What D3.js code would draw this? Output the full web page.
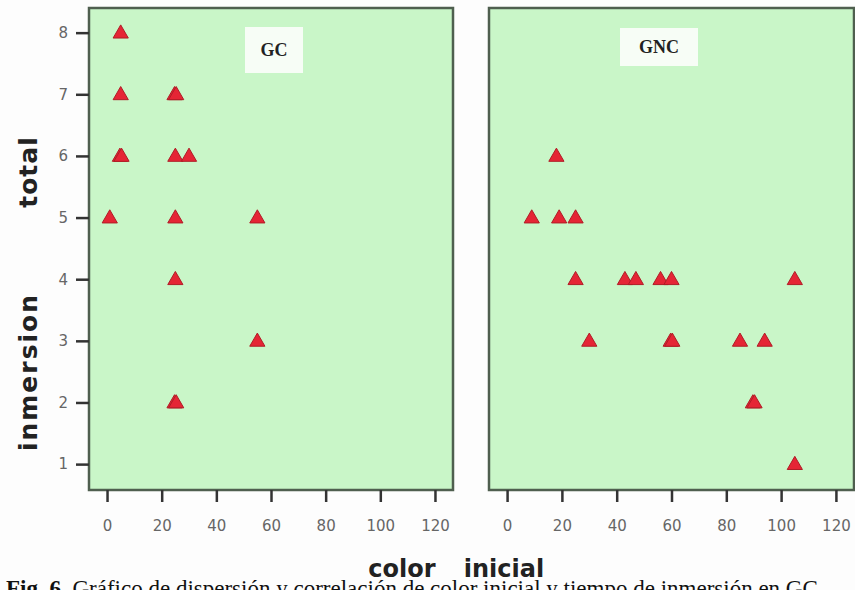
<!DOCTYPE html>
<html>
<head>
<meta charset="utf-8">
<script src="https://cdn.jsdelivr.net/npm/d3@7"></script>
<style>
  body { margin: 0; background: #fdfdfd; }
  svg { display: block; }
  text { font-family: "DejaVu Sans", sans-serif; }
</style>
</head>
<body>
<svg width="855" height="590"></svg>
<script>
// color inicial vs inmersion total, one panel per group
var gcColor  = [5, 5, 24.7, 25.3, 4.7, 5.3, 25, 30, 1, 25, 55, 25, 55, 24.7, 25.3];
var gcTotal  = [8, 7, 7, 7, 6, 6, 6, 6, 5, 5, 5, 4, 3, 2, 2];
var gncColor = [18, 9, 19, 25, 25, 43, 47, 56, 60, 105, 30, 59.7, 60.3, 85, 94, 89.7, 90.3, 105];
var gncTotal = [6, 5, 5, 5, 4, 4, 4, 4, 4, 4, 3, 3, 3, 3, 3, 2, 2, 1];
var xTicks = [0, 20, 40, 60, 80, 100, 120];
var yTicks = [1, 2, 3, 4, 5, 6, 7, 8];

var panels = [
  {name: 'GC',  xs: gcColor,  ys: gcTotal,  left: 89,  right: 453, box: [245, 27, 58, 46]},
  {name: 'GNC', xs: gncColor, ys: gncTotal, left: 489, right: 854, box: [620, 28, 78, 38]}
];

var plotTop = 8, plotBottom = 490;
var svg = d3.select('svg');

var y = d3.scaleLinear().domain([0.58, 8.4]).range([plotBottom, plotTop]);
var tri = d3.symbol().type(d3.symbolTriangle).size(100);

panels.forEach(function(p, i) {
  var x = d3.scaleLinear().domain([-6.6, 126.6]).range([p.left, p.right]);

  svg.append('rect')
    .attr('x', p.left).attr('y', plotTop)
    .attr('width', p.right - p.left).attr('height', plotBottom - plotTop)
    .attr('fill', '#c9f6c8')
    .attr('stroke', '#4f5f4f').attr('stroke-width', 2.5);

  svg.append('rect')
    .attr('x', p.box[0]).attr('y', p.box[1])
    .attr('width', p.box[2]).attr('height', p.box[3])
    .attr('fill', '#f7fdf6');
  svg.append('text')
    .attr('x', p.box[0] + p.box[2] / 2).attr('y', p.box[1] + p.box[3] / 2 + 6)
    .attr('text-anchor', 'middle')
    .style('font-family', '"Liberation Serif", serif')
    .style('font-weight', 'bold').style('font-size', '18px')
    .attr('fill', '#222')
    .text(p.name);

  var pts = p.xs.map(function(v, k) { return {x: v, y: p.ys[k]}; });
  svg.selectAll('path.pt' + i).data(pts).enter()
    .append('path')
    .classed('pt' + i, true)
    .attr('d', tri)
    .attr('transform', function(d) { return 'translate(' + x(d.x) + ',' + (y(d.y) + 1) + ')'; })
    .attr('fill', '#e52535')
    .attr('stroke', '#b01c26').attr('stroke-width', 1);

  var xa = svg.append('g')
    .attr('transform', 'translate(0,' + plotBottom + ')')
    .call(d3.axisBottom(x).tickValues(xTicks).tickSize(12).tickPadding(18).tickSizeOuter(0));
  xa.select('.domain').remove();
  xa.selectAll('.tick line').attr('stroke', '#333').attr('stroke-width', 2.5);
  xa.selectAll('.tick text').attr('fill', '#666').style('font-size', '15px');

  if (i == 0) {
    var ya = svg.append('g')
      .attr('transform', 'translate(' + p.left + ',0)')
      .call(d3.axisLeft(y).tickValues(yTicks).tickSize(13).tickPadding(8).tickSizeOuter(0));
    ya.select('.domain').remove();
    ya.selectAll('.tick line').attr('stroke', '#333').attr('stroke-width', 2.5);
    ya.selectAll('.tick text').attr('fill', '#666').style('font-size', '15px');
  }
});

// axis titles
svg.append('text')
  .attr('transform', 'translate(37,172) rotate(-90)')
  .attr('text-anchor', 'middle')
  .style('font-weight', 'bold').style('font-size', '25px').attr('fill', '#222')
  .style('letter-spacing', '1px')
  .text('total');
svg.append('text')
  .attr('transform', 'translate(37,372) rotate(-90)')
  .attr('text-anchor', 'middle')
  .style('font-weight', 'bold').style('font-size', '25px').attr('fill', '#222')
  .style('letter-spacing', '2px')
  .text('inmersion');

svg.append('text')
  .attr('x', 402).attr('y', 577)
  .attr('text-anchor', 'middle')
  .style('font-weight', 'bold').style('font-size', '24px').attr('fill', '#222')
  .text('color');
svg.append('text')
  .attr('x', 504).attr('y', 577)
  .attr('text-anchor', 'middle')
  .style('font-weight', 'bold').style('font-size', '24px').attr('fill', '#222')
  .text('inicial');

// caption, cut at the bottom edge as in the source page
var cap = svg.append('text')
  .attr('x', 6).attr('y', 596)
  .style('font-family', '"Liberation Serif", serif')
  .style('font-size', '23px').attr('fill', '#111');
cap.append('tspan').style('font-weight', 'bold').text('Fig. 6. ');
cap.append('tspan').text('Gráfico de dispersión y correlación de color inicial y tiempo de inmersión en GC');
</script>
</body>
</html>
